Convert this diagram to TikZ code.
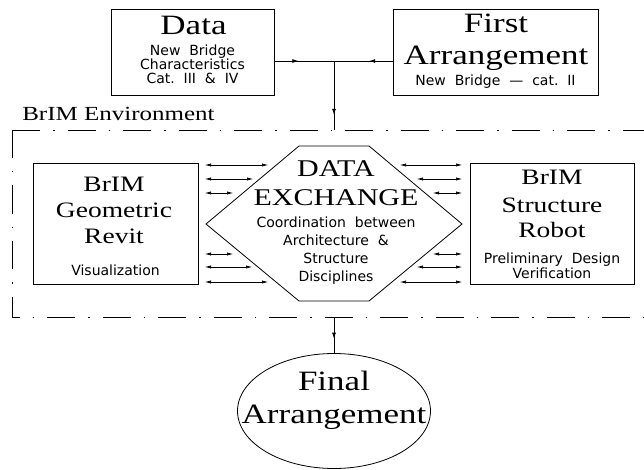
\documentclass[tikz,border=0pt]{standalone}
\usepackage{fontspec}
\setmainfont{Liberation Serif}
\newfontfamily\serifB{Liberation Serif}
\newfontfamily\cadfont{DejaVu Sans}
\usetikzlibrary{arrows.meta,shapes.geometric,decorations.markings}
\tikzset{
  box/.style={draw, line width=0.9pt, inner sep=0pt},
  big/.style={font=\serifB\fontsize{28}{32}\selectfont, inner sep=0pt, anchor=base, xscale=1.25, transform shape},
  mid/.style={font=\serifB\fontsize{22}{26}\selectfont, inner sep=0pt, anchor=base, xscale=1.25, transform shape},
  hexbig/.style={font=\serifB\fontsize{24}{28}\selectfont, inner sep=0pt, anchor=base, xscale=1.25, transform shape},
  envlabel/.style={font=\serifB\fontsize{20}{24}\selectfont, inner sep=0pt, anchor=base west, xscale=1.25, transform shape},
  small/.style={font=\cadfont\fontsize{14}{16}\selectfont, inner sep=0pt, anchor=base},
  conn/.style={line width=0.8pt},
  midarrow/.style={postaction={decorate}, decoration={markings, mark=at position #1 with {\arrow{Latex[length=6pt,width=4pt]}}}},
  bi/.style={line width=0.6pt, {Latex[length=6pt,width=3.2pt]}-{Latex[length=6pt,width=3.2pt]}},
  env/.style={line width=0.9pt, dash pattern=on 28pt off 13pt on 1.5pt off 13pt},
}
\begin{document}
\begin{tikzpicture}[x=1pt,y=-1pt]
\useasboundingbox (0,0) rectangle (644,470);

% top boxes
\node[box, minimum width=163pt, minimum height=86pt] (data) at (192.5,52) {};
\node[big] (dataT) at (193.5,35) {Data};
\node[small] (data1) at (192.5,56) {New\ \ Bridge};
\node[small] (data2) at (192.5,70) {Characteristics};
\node[small] (data3) at (192.5,83.5) {Cat.\ \ III\ \ \&\ \ IV};

\node[box, minimum width=205pt, minimum height=86pt] (first) at (495.5,52) {};
\node[big] (firstT1) at (496,33) {First};
\node[big] (firstT2) at (496,65) {Arrangement};
\node[small] (first1) at (495.5,85.5) {New\ \ Bridge\ \ —\ \ cat.\ \ II};

% junction
\coordinate (J) at (334,61);
\coordinate (envtop) at (334,130);
\draw[conn, midarrow=0.4] (data.east |- J) -- (J);
\draw[conn, midarrow=0.4] (first.west |- J) -- (J);
\draw[conn, midarrow=0.78] (J) -- (envtop);

% environment
\node[envlabel] (envL) at (22,121) {BrIM Environment};
\draw[env] (12,130) -- (660,130);
\draw[env] (12,130) -- (12,317) -- (660,317);

% left box
\node[box, minimum width=165pt, minimum height=121pt] (geo) at (115.5,223.5) {};
\node[mid] (geo1) at (114,192) {BrIM};
\node[mid] (geo2) at (114,217) {Geometric};
\node[mid] (geo3) at (114,243) {Revit};
\node[small] (geo4) at (115.5,275) {Visualization};

% right box
\node[box, minimum width=164pt, minimum height=121pt] (str) at (552,223.5) {};
\node[mid] (str1) at (552,185) {BrIM};
\node[mid] (str2) at (552,212) {Structure};
\node[mid] (str3) at (552,237) {Robot};
\node[small] (str4) at (552,263) {Preliminary\ \ Design};
\node[small] (str5) at (552,278.5) {Verification};

% hexagon
\coordinate (h1) at (299,146);
\coordinate (h2) at (369,146);
\coordinate (h3) at (462,224);
\coordinate (h4) at (369,301);
\coordinate (h5) at (299,301);
\coordinate (h6) at (206,224);
\draw[line width=0.8pt] (h1) -- (h2) -- (h3) -- (h4) -- (h5) -- (h6) -- cycle;
\node[hexbig] (hx1) at (336,177) {DATA};
\node[hexbig] (hx2) at (336,205) {EXCHANGE};
\node[small] (hx3) at (336,227.5) {Coordination\ \ between};
\node[small] (hx4) at (336,245.5) {Architecture\ \ \&};
\node[small] (hx5) at (336,263.5) {Structure};
\node[small] (hx6) at (336,281.5) {Disciplines};

% exchange arrows
\foreach \y/\e in {165/268,179/253,193/233,254/233,267/252,282/268}
  \draw[bi] (205,\y) -- (\e,\y);
\foreach \y/\s in {165/400,179/417,193/433,254/433,267/417,282/400}
  \draw[bi] (\s,\y) -- (462,\y);

% final
\node[draw, ellipse, line width=0.8pt, minimum width=193pt, minimum height=115pt, inner sep=0pt] (final) at (334,411) {};
\node[big] (fin1) at (334,390) {Final};
\node[big] (fin2) at (334,423) {Arrangement};
\coordinate (envbot) at (334,317);
\draw[conn, midarrow=0.6] (envbot) -- (final.north);
\end{tikzpicture}
\end{document}
